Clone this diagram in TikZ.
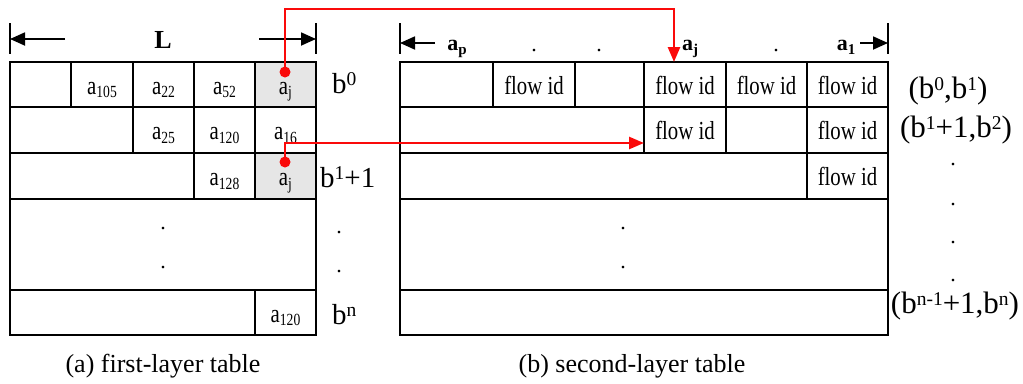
\documentclass[tikz,border=0pt]{standalone}
\usepackage{graphicx}
\usepackage{fontspec}
\setmainfont{Liberation Serif}
\usetikzlibrary{arrows.meta}

\definecolor{cellgray}{RGB}{230,230,230}
\definecolor{linkred}{RGB}{250,10,10}

% cell text: slightly narrowed serif
\newcommand\cellfont{\fontsize{26}{26}\selectfont}
\newcommand\narrow[1]{\scalebox{0.8}[1]{#1}}
\newcommand\asub[1]{\narrow{a\raisebox{-0.14em}{\fontsize{17}{17}\selectfont #1}}}
\newcommand\fid{\narrow{flow id}}
% bold header labels
\newcommand\bsub[1]{\textbf{a}\raisebox{-0.2em}{\fontsize{15}{15}\selectfont\bfseries #1}}
\newcommand\upidx[1]{\raisebox{0.25em}{\fontsize{19.5}{19.5}\selectfont #1}}

\begin{document}
\begin{tikzpicture}[x=1pt,y=-1pt,
  grid/.style={line width=1.8pt},
  cell/.style={draw, grid, anchor=north west, inner sep=0pt, outer sep=0pt,
    font=\cellfont, text height=19pt, text depth=0pt},
  hot/.style={cell, fill=cellgray},
  sz/.style 2 args={minimum width=#1pt, minimum height=#2pt},
  lbl/.style={inner sep=0pt, anchor=base west, font=\fontsize{29}{29}\selectfont},
  rng/.style={inner sep=0pt, anchor=base, font=\fontsize{31}{31}\selectfont},
  caption/.style={inner sep=0pt, anchor=base, font=\fontsize{26}{26}\selectfont},
  head/.style={inner sep=0pt, anchor=base, font=\fontsize{22}{22}\selectfont\bfseries},
  dotmark/.style={inner sep=0pt, anchor=base, font=\fontsize{22}{22}\selectfont},
  dimtick/.style={line width=1.6pt},
  dimarrow/.style={line width=1.8pt, -{Triangle[length=15pt,width=13pt]}},
  link/.style={draw=linkred, line width=2.6pt, -{Triangle[length=15pt,width=12pt]}},
  pin/.style={circle, fill=linkred, minimum size=11pt, inner sep=0pt},
]
\useasboundingbox (0,0) rectangle (1023,383);

% ---------- first-layer table ----------
\node[cell, sz={61}{45}] (l11) at (10,62) {};
\node[cell, sz={62}{45}] (l12) at (71,62) {\asub{105}};
\node[cell, sz={61}{45}] (l13) at (133,62) {\asub{22}};
\node[cell, sz={61}{45}] (l14) at (194,62) {\asub{52}};
\node[hot,  sz={61}{45}] (l15) at (255,62) {\asub{j}};
\node[cell, sz={123}{46}] (l21) at (10,107) {};
\node[cell, sz={61}{46}] (l22) at (133,107) {\asub{25}};
\node[cell, sz={61}{46}] (l23) at (194,107) {\asub{120}};
\node[cell, sz={61}{46}] (l24) at (255,107) {\asub{16}};
\node[cell, sz={184}{46}] (l31) at (10,153) {};
\node[cell, sz={61}{46}] (l32) at (194,153) {\asub{128}};
\node[hot,  sz={61}{46}] (l33) at (255,153) {\asub{j}};
\node[cell, sz={306}{91}] (l4) at (10,199) {};
\node[cell, sz={245}{45}] (l51) at (10,290) {};
\node[cell, sz={61}{45}] (l52) at (255,290) {\asub{120}};
\node[dotmark] (ld1) at (163,229) {.};
\node[dotmark] (ld2) at (163,268) {.};

% row keys
\node[lbl] (k0) at (332,93) {b\upidx{0}};
\node[lbl] (k1) at (320,187) {b\upidx{1}+1};
\node[dotmark] (kd1) at (339,233) {.};
\node[dotmark] (kd2) at (339,272) {.};
\node[lbl] (kn) at (332,324) {b\upidx{n}};

% width marker
\draw[dimtick] (10,23) -- (10,54);
\draw[dimtick] (316,23) -- (316,54);
\coordinate (la0) at (65,39);  \coordinate (la1) at (10,39);
\coordinate (lb0) at (259,39); \coordinate (lb1) at (316,39);
\draw[dimarrow] (la0) -- (la1);
\draw[dimarrow] (lb0) -- (lb1);
\node[head, font=\fontsize{26}{26}\selectfont\bfseries] (L) at (163,48) {L};

\node[caption] (capa) at (163,372) {(a) first-layer table};

% ---------- second-layer table ----------
\node[cell, sz={93}{45}] (r11) at (400,62) {};
\node[cell, sz={82}{45}] (r12) at (493,62) {\fid};
\node[cell, sz={69}{45}] (r13) at (575,62) {};
\node[cell, sz={82}{45}] (r14) at (644,62) {\fid};
\node[cell, sz={81}{45}] (r15) at (726,62) {\fid};
\node[cell, sz={81}{45}] (r16) at (807,62) {\fid};
\node[cell, sz={244}{46}] (r21) at (400,107) {};
\node[cell, sz={82}{46}] (r22) at (644,107) {\fid};
\node[cell, sz={81}{46}] (r23) at (726,107) {};
\node[cell, sz={81}{46}] (r24) at (807,107) {\fid};
\node[cell, sz={407}{46}] (r31) at (400,153) {};
\node[cell, sz={81}{46}] (r32) at (807,153) {\fid};
\node[cell, sz={488}{91}] (r4) at (400,199) {};
\node[cell, sz={488}{45}] (r5) at (400,290) {};
\node[dotmark] (rd1) at (623,229) {.};
\node[dotmark] (rd2) at (623,268) {.};

% range keys
\node[rng] (q0) at (948,98) {(b\upidx{0},b\upidx{1})};
\node[rng] (q1) at (956,137) {(b\upidx{1}+1,b\upidx{2})};
\node[dotmark] (qd1) at (953,165) {.};
\node[dotmark] (qd2) at (953,205) {.};
\node[dotmark] (qd3) at (953,243) {.};
\node[dotmark] (qd4) at (953,281) {.};
\node[rng] (qn) at (955,313) {(b\upidx{n-1}+1,b\upidx{n})};

% column marker
\draw[dimtick] (400,23) -- (400,54);
\draw[dimtick] (888,23) -- (888,54);
\coordinate (ra0) at (435,43); \coordinate (ra1) at (400,43);
\coordinate (rb0) at (860,43); \coordinate (rb1) at (888,43);
\draw[dimarrow] (ra0) -- (ra1);
\draw[dimarrow] (rb0) -- (rb1);
\node[head] (hp) at (457,50) {\bsub{p}};
\node[dotmark] (hd1) at (534,51) {.};
\node[dotmark] (hd2) at (599,51) {.};
\node[head] (hj) at (690,50) {\bsub{j}};
\node[dotmark] (hd3) at (776,51) {.};
\node[head] (h1) at (846,50) {\bsub{1}};

\node[caption] (capb) at (632,372) {(b) second-layer table};

% ---------- lookup links ----------
\node[pin] (p1) at (285,72) {};
\node[pin] (p2) at (285,162) {};
\coordinate (j1) at (674,9);
\coordinate (t1) at (674,62);
\coordinate (t2) at (644,143);
\draw[link] (p1.center) |- (j1) -- (t1);
\draw[link] (p2.center) |- (t2);
\end{tikzpicture}
\end{document}
